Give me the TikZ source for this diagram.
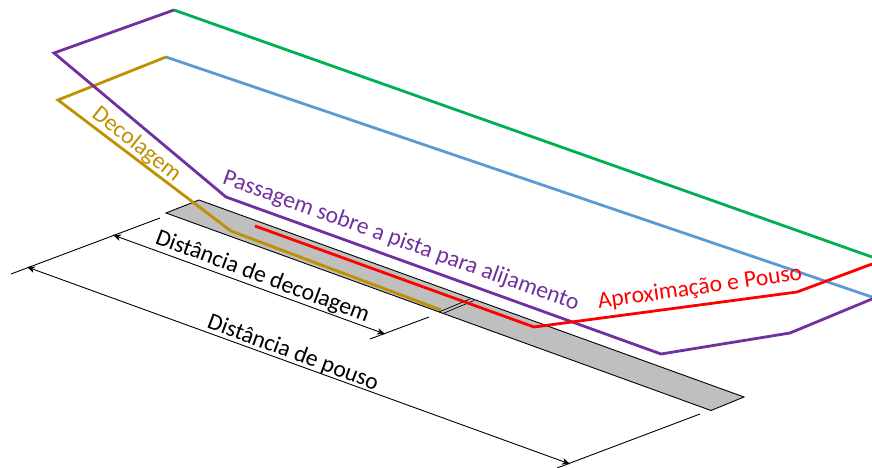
\documentclass[tikz,border=0pt]{standalone}
\usepackage{fontspec}
\setmainfont{Carlito}
\usetikzlibrary{arrows.meta}
\definecolor{cpurple}{HTML}{7030A0}
\definecolor{cgold}{HTML}{BF9000}
\definecolor{cblue}{HTML}{5B9BD5}
\definecolor{cgreen}{HTML}{00B050}
\definecolor{cgrey}{HTML}{BFBFBF}
\tikzset{
  route/.style={line width=2.8pt,line join=miter},
  thin line/.style={line width=0.9pt,black},
  dim/.style={line width=0.9pt,black,{Stealth[length=8pt,width=6.5pt,inset=2.5pt]}-{Stealth[length=8pt,width=6.5pt,inset=2.5pt]}},
  lbl/.style={font=\fontsize{23.6}{26}\selectfont,inner sep=0pt,anchor=center},
}
\begin{document}
\begin{tikzpicture}[x=1pt,y=-1pt]
\useasboundingbox (0,0) rectangle (872,468);
% runway
\coordinate (ra) at (166,213);
\coordinate (rb) at (199,200);
\coordinate (rc) at (744,397);
\coordinate (rd) at (711,410.5);
\draw[thin line,fill=cgrey,line join=miter] (ra) -- (rb) -- (rc) -- (rd) -- cycle;
% break marks
\coordinate (ba) at (439,312);
\coordinate (bb) at (470,299);
\coordinate (bc) at (443,313.5);
\coordinate (bd) at (474,300.5);
\draw[line width=0.7pt] (ba) -- (bb);
\draw[line width=0.7pt] (bc) -- (bd);
% routes
\coordinate (g1) at (166,57);
\coordinate (g2) at (58,100);
\coordinate (g3) at (231,231);
\coordinate (g4) at (441,310);
\coordinate (b1) at (872,297);
\coordinate (p0) at (872,299);
\coordinate (p1) at (790,333);
\coordinate (p2) at (661,354);
\coordinate (p3) at (226,197);
\coordinate (p4) at (54,53);
\coordinate (p5) at (174,10);
\coordinate (v1) at (872,257);
\coordinate (r1) at (255,226);
\coordinate (r2) at (534,327);
\coordinate (r3) at (797,292);
\coordinate (r4) at (872,264);
\draw[route,cgreen] (p5) -- (v1);
\draw[route,cblue] (g1) -- (b1);
\draw[route,cgold] (g1) -- (g2) -- (g3) -- (g4);
\draw[route,cpurple] (p0) -- (p1) -- (p2) -- (p3) -- (p4) -- (p5);
\draw[route,red] (r1) -- (r2) -- (r3) -- (r4);
% dimensions
\coordinate (e1a) at (11,274);
\coordinate (e1b) at (160,218);
\coordinate (e2a) at (370,339);
\coordinate (e2b) at (429,317);
\coordinate (e3a) at (557,468);
\coordinate (e3b) at (700,414);
\coordinate (d1a) at (113,235);
\coordinate (d1b) at (385,334);
\coordinate (d2a) at (27,267);
\coordinate (d2b) at (570,464);
\draw[thin line] (e1a) -- (e1b);
\draw[thin line] (e2a) -- (e2b);
\draw[thin line] (e3a) -- (e3b);
\draw[dim] (d1a) -- (d1b);
\draw[dim] (d2a) -- (d2b);
% labels
\node[lbl,cgold,rotate=-38.5] (tdec) at (136.5,144.5) {Decolagem};
\node[lbl,cpurple,rotate=-19.7] (tpas) at (401,241.5) {Passagem sobre a pista para alijamento};
\node[lbl,red,rotate=8] (tapr) at (700,288) {Aproximação e Pouso};
\node[lbl,black,rotate=-20.5] (tdd) at (262.5,277) {Distância de decolagem};
\node[lbl,black,rotate=-20.5] (tdp) at (293,353) {Distância de pouso};
\end{tikzpicture}
\end{document}
